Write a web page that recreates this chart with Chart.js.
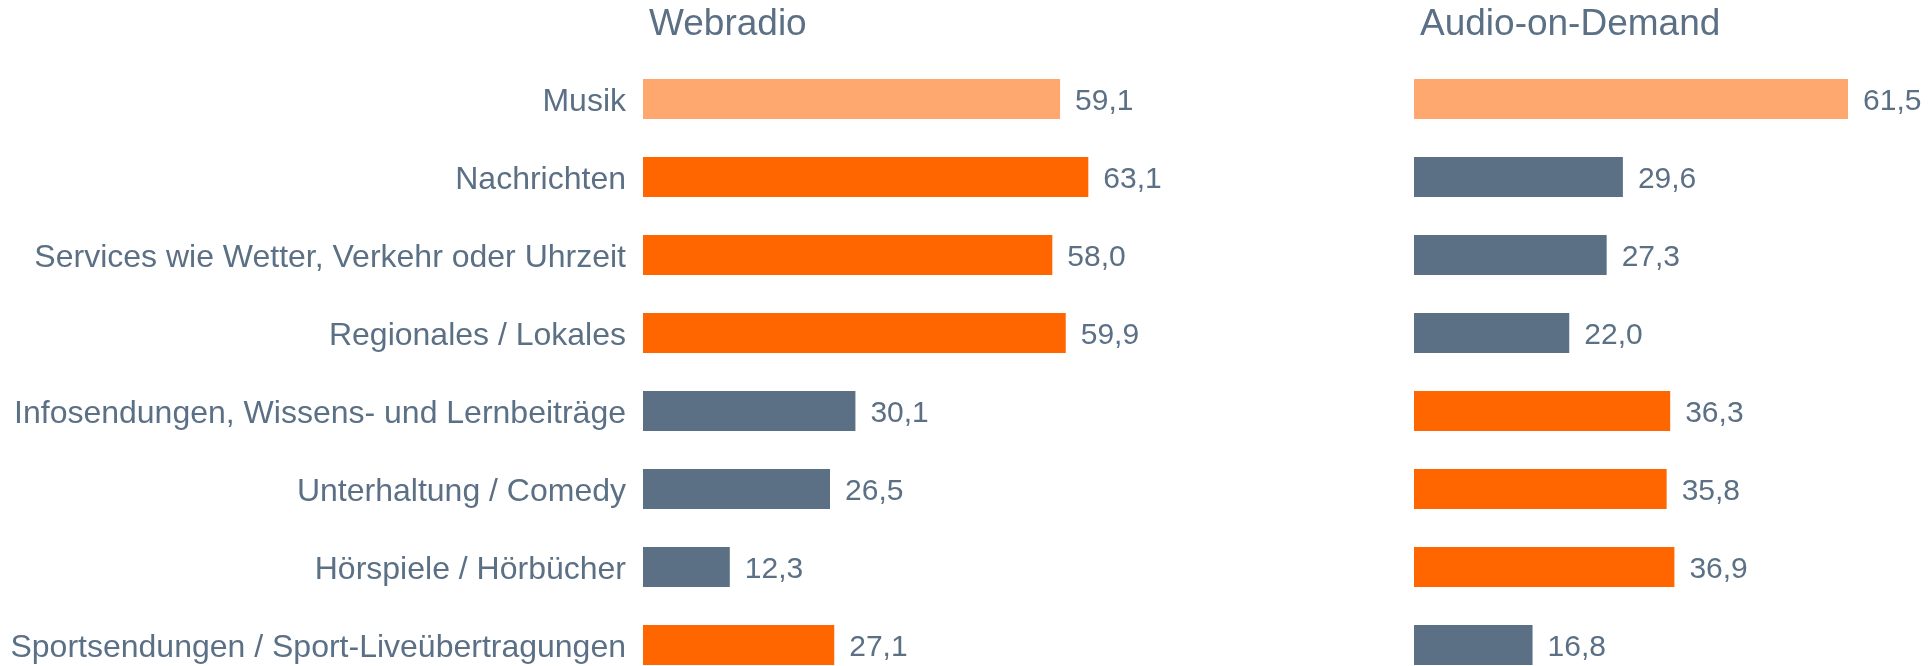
<!DOCTYPE html>
<html lang="de">
<head>
<meta charset="utf-8">
<title>Webradio / Audio-on-Demand</title>
<script src="https://cdn.jsdelivr.net/npm/chart.js@4.4.1/dist/chart.umd.min.js"></script>
<style>
  html, body { margin: 0; padding: 0; background: #fff; overflow: hidden; }
  #wrap { position: relative; width: 1931px; height: 666px; overflow: hidden; }
  canvas { position: absolute; top: 0; }
  #left { left: 0; }
  #right { left: 1300px; }
</style>
</head>
<body>
<div id="wrap">
  <canvas id="left" width="1300" height="684"></canvas>
  <canvas id="right" width="631" height="684"></canvas>
</div>
<script>
const categories = [
  'Musik',
  'Nachrichten',
  'Services wie Wetter, Verkehr oder Uhrzeit',
  'Regionales / Lokales',
  'Infosendungen, Wissens- und Lernbeiträge',
  'Unterhaltung / Comedy',
  'Hörspiele / Hörbücher',
  'Sportsendungen / Sport-Liveübertragungen'
];
const webradioValues = [59.1, 63.1, 58.0, 59.9, 30.1, 26.5, 12.3, 27.1];
const aodValues = [61.5, 29.6, 27.3, 22.0, 36.3, 35.8, 36.9, 16.8];
const panelTitles = ['Webradio', 'Audio-on-Demand'];

// which rows are highlighted (orange) per panel; first row is the reference row
const webradioHigh = [false, true, true, true, false, false, false, true];
const aodHigh = [false, false, false, false, true, true, true, false];

const TEXT = '#5b7085';
const SLATE = '#5b7085';
const ORANGE = '#ff6600';
const LIGHT = '#fea870';
const FONT = "'Liberation Sans', Arial, Helvetica, sans-serif";
const X_MAX = 70;

function barColors(high) {
  return high.map((h, i) => i === 0 ? LIGHT : (h ? ORANGE : SLATE));
}

const fmt = v => v.toFixed(1).replace('.', ',');

const valueLabels = {
  id: 'valueLabels',
  afterDatasetsDraw(chart) {
    const { ctx } = chart;
    const ds = chart.data.datasets[0];
    const meta = chart.getDatasetMeta(0);
    ctx.save();
    ctx.font = `30px ${FONT}`;
    ctx.fillStyle = TEXT;
    ctx.textAlign = 'left';
    ctx.textBaseline = 'middle';
    meta.data.forEach((bar, i) => {
      ctx.fillText(fmt(ds.data[i]), bar.x + 15, bar.y + 3);
    });
    ctx.restore();
  }
};

const panelTitle = {
  id: 'panelTitle',
  afterDraw(chart, args, opts) {
    const { ctx, chartArea } = chart;
    ctx.save();
    ctx.font = `37px ${FONT}`;
    ctx.fillStyle = TEXT;
    ctx.textAlign = 'left';
    ctx.textBaseline = 'alphabetic';
    ctx.fillText(opts.text, chartArea.left + 6, 35);
    ctx.restore();
  }
};

function makeChart(id, values, high, title, axisWidth, padRight, showLabels) {
  return new Chart(document.getElementById(id), {
    type: 'bar',
    data: {
      labels: categories,
      datasets: [{
        data: values,
        backgroundColor: barColors(high),
        borderWidth: 0,
        barPercentage: 1,
        categoryPercentage: 0.51
      }]
    },
    options: {
      indexAxis: 'y',
      responsive: false,
      animation: false,
      devicePixelRatio: 1,
      layout: { padding: { top: 60, right: padRight, left: 0, bottom: 0 } },
      plugins: {
        legend: { display: false },
        tooltip: { enabled: false },
        panelTitle: { text: title }
      },
      scales: {
        x: { display: false, min: 0, max: X_MAX },
        y: {
          grid: { display: false, drawTicks: false },
          border: { display: false },
          ticks: {
            display: showLabels,
            color: TEXT,
            padding: 17,
            labelOffset: 3,
            font: { family: FONT, size: 32 }
          },
          afterFit(scale) {
            scale.width = axisWidth;
            scale.paddingTop = 0;
            scale.paddingBottom = 0;
          }
        }
      }
    },
    plugins: [valueLabels, panelTitle]
  });
}

makeChart('left', webradioValues, webradioHigh, panelTitles[0], 643, 163, true);
makeChart('right', aodValues, aodHigh, panelTitles[1], 114, 23, false);
</script>
</body>
</html>
